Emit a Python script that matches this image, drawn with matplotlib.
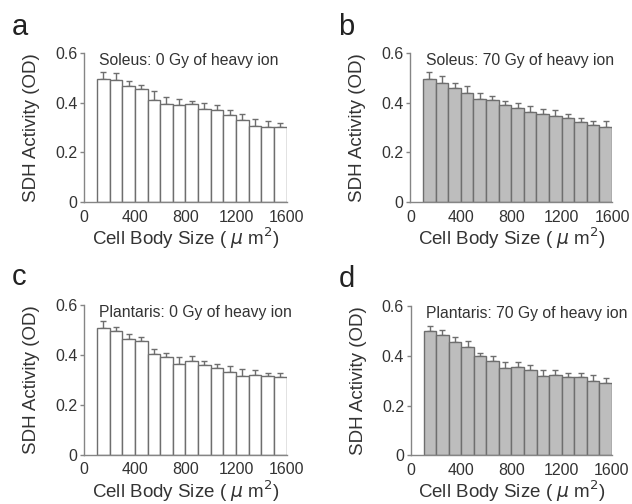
import matplotlib
matplotlib.use("Agg")
import matplotlib.pyplot as plt

plt.rcParams['font.family'] = ['Liberation Sans', 'DejaVu Sans']

# bins of cell body size (um^2), 100-wide, 100..1600
bin_left = [100, 200, 300, 400, 500, 600, 700, 800, 900, 1000,
            1100, 1200, 1300, 1400, 1500]

sol_0 = [0.495, 0.489, 0.467, 0.455, 0.410, 0.396, 0.389, 0.393, 0.376, 0.370,
         0.349, 0.330, 0.307, 0.301, 0.302]
sol_0_err = [0.029, 0.028, 0.021, 0.014, 0.038, 0.028, 0.024, 0.015, 0.024, 0.022,
             0.021, 0.023, 0.026, 0.024, 0.018]

sol_70 = [0.496, 0.477, 0.457, 0.437, 0.414, 0.409, 0.389, 0.380, 0.364, 0.354,
          0.345, 0.337, 0.321, 0.310, 0.302]
sol_70_err = [0.028, 0.028, 0.022, 0.030, 0.026, 0.016, 0.019, 0.017, 0.022, 0.020,
              0.025, 0.019, 0.016, 0.015, 0.023]

pla_0 = [0.507, 0.498, 0.465, 0.455, 0.406, 0.392, 0.364, 0.375, 0.359, 0.348,
         0.332, 0.317, 0.321, 0.316, 0.313]
pla_0_err = [0.030, 0.015, 0.021, 0.016, 0.020, 0.016, 0.030, 0.021, 0.017, 0.017,
             0.023, 0.028, 0.018, 0.013, 0.015]

pla_70 = [0.501, 0.485, 0.458, 0.438, 0.400, 0.379, 0.352, 0.354, 0.342, 0.318,
          0.322, 0.314, 0.315, 0.301, 0.291]
pla_70_err = [0.020, 0.021, 0.020, 0.021, 0.012, 0.021, 0.024, 0.023, 0.023, 0.024,
              0.022, 0.019, 0.018, 0.022, 0.020]

panels = [
    ('a', 'Soleus: 0 Gy of heavy ion', sol_0, sol_0_err, 'white', [0.1334, 0.5986, 0.320, 0.2968], 1.118),
    ('b', 'Soleus: 70 Gy of heavy ion', sol_70, sol_70_err, '#bdbdbd', [0.6495, 0.5986, 0.319, 0.2968], 1.118),
    ('c', 'Plantaris: 0 Gy of heavy ion', pla_0, pla_0_err, 'white', [0.1334, 0.0978, 0.320, 0.2964], 1.134),
    ('d', 'Plantaris: 70 Gy of heavy ion', pla_70, pla_70_err, '#bdbdbd', [0.6503, 0.0966, 0.318, 0.2957], 1.13),
]

line_col = '#858585'
text_col = '#333333'

fig = plt.figure(figsize=(6.32, 5.04), dpi=100)

for letter, title, vals, errs, face, pos, ly in panels:
    ax = fig.add_axes(pos)
    ax.bar(bin_left, vals, width=100, align='edge', color=face,
           edgecolor='#6e6e6e', linewidth=1.0, zorder=2)
    centers = [b + 50 for b in bin_left]
    ax.errorbar(centers, vals, yerr=[[0] * len(errs), errs], fmt='none',
                ecolor='#6e6e6e', elinewidth=1.0, capsize=2, capthick=1.0, zorder=1)
    ax.set_xlim(0, 1600)
    ax.set_ylim(0, 0.6)
    ax.set_xticks([0, 400, 800, 1200, 1600])
    ax.set_yticks([0, 0.2, 0.4, 0.6])
    ax.set_yticklabels(['0', '0.2', '0.4', '0.6'])
    for s in ['top', 'right']:
        ax.spines[s].set_visible(False)
    for s in ['left', 'bottom']:
        ax.spines[s].set_color(line_col)
        ax.spines[s].set_linewidth(1.0)
    ax.tick_params(axis='x', length=0, pad=5.5, labelsize=11.5, labelcolor=text_col)
    ax.tick_params(axis='y', length=3, width=1.0, color=line_col, pad=2,
                   labelsize=11.5, labelcolor=text_col)
    ax.set_xlabel('Cell Body Size ( $\\mu$ m$^2$)', fontsize=13.5, color=text_col, va='center')
    ax.xaxis.set_label_coords(0.5, -0.243)
    ax.set_ylabel('SDH Activity (OD)', fontsize=13.5, color=text_col, va='center')
    ax.yaxis.set_label_coords(-0.262, 0.5)
    ax.text(0.075, 0.951, title, transform=ax.transAxes, ha='left', va='center',
            fontsize=11.3, color=text_col)
    ax.text(-0.358, ly, letter, transform=ax.transAxes, ha='left', va='baseline',
            fontsize=21, color='#222222')

fig.savefig('out.png', dpi=100)
